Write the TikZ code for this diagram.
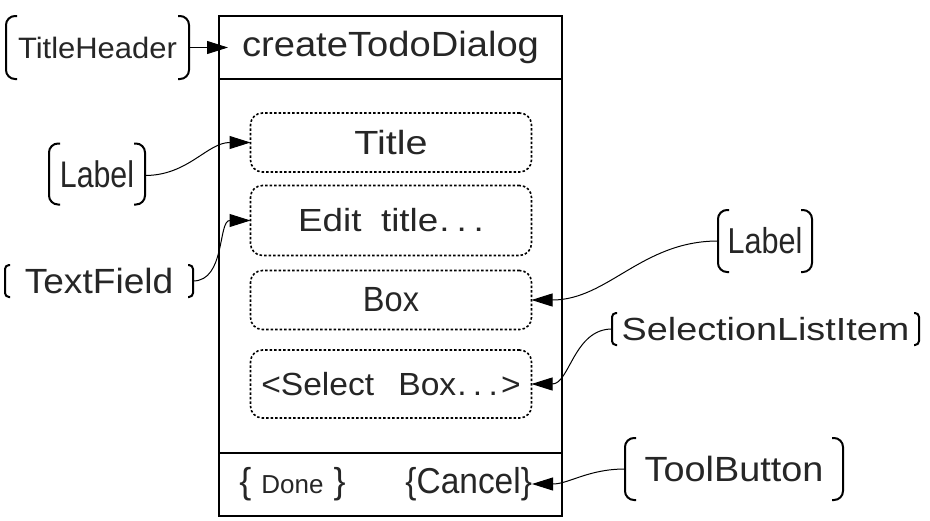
\documentclass[tikz,border=0pt]{standalone}
\usepackage{fontspec}
\usepackage{graphicx}
\setmainfont{Liberation Sans}
\usetikzlibrary{arrows.meta}
\definecolor{ink}{HTML}{262626}
\newcommand{\fs}[1]{\fontsize{#1}{#1}\selectfont}
\newcommand{\sx}[2]{\scalebox{#1}[1]{#2}}
\newcommand{\brackets}[3]{%
  \draw[brk,rounded corners=#3] ([xshift=#2]#1.north west) -- (#1.north west) -- (#1.south west) -- ([xshift=#2]#1.south west);
  \draw[brk,rounded corners=#3] ([xshift=-#2]#1.north east) -- (#1.north east) -- (#1.south east) -- ([xshift=-#2]#1.south east);}
\begin{document}
\begin{tikzpicture}[x=1pt,y=-1pt,
 frame/.style={draw=black,line width=2pt,minimum width=343pt,inner sep=0pt,outer sep=0pt,text=ink},
 dbox/.style={draw=black,dash pattern=on 2.5pt off 2pt,line width=1.6pt,rounded corners=12pt,minimum width=281pt,inner sep=0pt,outer sep=0pt,text=ink},
 lbl/.style={inner sep=0pt,outer sep=0pt,text=ink},
 brk/.style={line width=2pt},
 conn/.style={line width=1pt,-{Triangle[length=21pt,width=13pt]}},
]
\useasboundingbox (0,0) rectangle (930,520);
% main frame
\node[frame,minimum height=63pt] (hdr) at (390.5,47.5) {\fs{35}\sx{1.09}{createTodoDialog}};
\node[frame,minimum height=374pt] (body) at (390.5,266) {};
\node[frame,minimum height=63pt] (foot) at (390.5,484.5) {};
% inner boxes
\node[dbox,minimum height=59pt] (title) at (391,142.5) {\fs{33.5}\sx{1.18}{Title}};
\node[dbox,minimum height=70pt] (edit) at (391,220.5) {\fs{32}\sx{1.15}{Edit\hspace{17pt}title\kern1pt.\kern6pt.\kern6pt.}};
\node[dbox,minimum height=59pt] (box) at (391,300) {\fs{35}\sx{0.93}{Box}};
\node[dbox,minimum height=68pt] (sel) at (391,384) {\fs{32}\sx{1.05}{<Select\hspace{23pt}Box\kern1pt.\kern6pt.\kern6pt.\kern3pt>}};
% footer buttons
\node[lbl] (done) at (292.5,484) {\fs{36}\{ {\fs{26}Done} \}};
\node[lbl,anchor=east] (cancel) at (532,484) {\fs{36}\sx{0.93}{\{Cancel\}}};
% annotation labels
\node[lbl,minimum width=183pt,minimum height=63pt] (th) at (97.5,47.5) {\fs{29.5}\sx{1.05}{TitleHeader}};
\node[lbl,minimum width=96pt,minimum height=61pt] (lblL) at (97,174) {\fs{37}\sx{0.82}{Label}};
\node[lbl,minimum width=188pt,minimum height=32pt] (tf) at (99,281) {\fs{35}\sx{1.06}{TextField}};
\node[lbl,minimum width=94pt,minimum height=62pt] (lblR) at (765,241) {\fs{36}\sx{0.85}{Label}};
\node[lbl,minimum width=307pt,minimum height=32pt] (sli) at (765.5,329) {\fs{32}\sx{1.18}{SelectionListItem}};
\node[lbl,minimum width=218pt,minimum height=62pt] (tb) at (734,469) {\fs{35}\sx{1.08}{ToolButton}};
\brackets{th}{11pt}{9pt}
\brackets{lblL}{11pt}{9pt}
\brackets{tf}{5pt}{4pt}
\brackets{lblR}{11pt}{9pt}
\brackets{sli}{5pt}{4pt}
\brackets{tb}{11pt}{9pt}
% connectors
\draw[conn] (th.east) -- ([xshift=9pt]hdr.west);
\draw[conn] ([yshift=-1.5pt]lblL.east) to[out=0,in=180] (title.west);
\draw[conn] (tf.east) to[out=0,in=180] (edit.west);
\draw[conn] (lblR.west) to[out=180,in=0] (box.east);
\draw[conn] (sli.west) to[out=180,in=0] (sel.east);
\draw[conn] (tb.west) to[out=180,in=0] (cancel.east);
\end{tikzpicture}
\end{document}
